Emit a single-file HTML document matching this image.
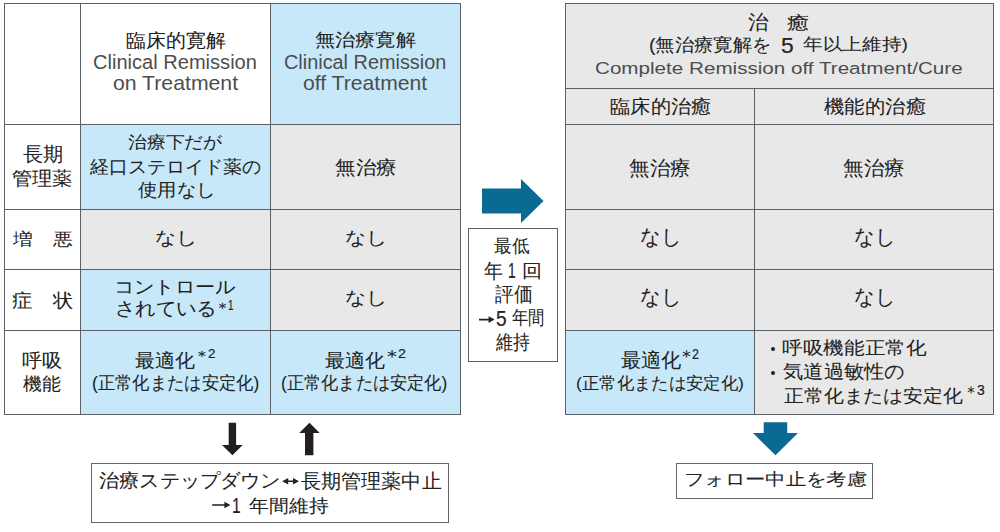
<!DOCTYPE html>
<html><head><meta charset="utf-8"><style>html,body{margin:0;padding:0;background:#fff;}body{width:1000px;height:532px;position:relative;overflow:hidden;font-family:'Liberation Sans',sans-serif;color:#222;}div{position:absolute;box-sizing:border-box;}p{position:absolute;margin:0;line-height:1;white-space:pre;transform-origin:0 0;}.j{-webkit-text-stroke:0.05px #222;}.e{color:#4d4d4d;}.d{-webkit-text-stroke:0.2px #222;}</style></head><body>
<div style="left:4px;top:3px;width:76px;height:121px;background:#fff;"></div>
<div style="left:80px;top:3px;width:190px;height:121px;background:#fff;"></div>
<div style="left:270px;top:3px;width:190px;height:121px;background:#c6e8f9;"></div>
<div style="left:4px;top:124px;width:76px;height:85px;background:#fff;"></div>
<div style="left:80px;top:124px;width:190px;height:85px;background:#c6e8f9;"></div>
<div style="left:270px;top:124px;width:190px;height:85px;background:#e8e8e8;"></div>
<div style="left:4px;top:209px;width:76px;height:60px;background:#fff;"></div>
<div style="left:80px;top:209px;width:190px;height:60px;background:#e8e8e8;"></div>
<div style="left:270px;top:209px;width:190px;height:60px;background:#e8e8e8;"></div>
<div style="left:4px;top:269px;width:76px;height:61px;background:#fff;"></div>
<div style="left:80px;top:269px;width:190px;height:61px;background:#c6e8f9;"></div>
<div style="left:270px;top:269px;width:190px;height:61px;background:#e8e8e8;"></div>
<div style="left:4px;top:330px;width:76px;height:84px;background:#fff;"></div>
<div style="left:80px;top:330px;width:190px;height:84px;background:#c6e8f9;"></div>
<div style="left:270px;top:330px;width:190px;height:84px;background:#c6e8f9;"></div>
<div style="left:565px;top:3px;width:428px;height:411px;background:#e8e8e8;"></div>
<div style="left:565px;top:330px;width:189px;height:84px;background:#c6e8f9;"></div>
<div style="left:4px;top:3px;width:1px;height:412px;background:#5a6065;"></div>
<div style="left:80px;top:3px;width:1px;height:412px;background:#5a6065;"></div>
<div style="left:270px;top:3px;width:1px;height:412px;background:#5a6065;"></div>
<div style="left:460px;top:3px;width:1px;height:412px;background:#5a6065;"></div>
<div style="left:4px;top:3px;width:457px;height:1px;background:#5a6065;"></div>
<div style="left:4px;top:124px;width:457px;height:1px;background:#5a6065;"></div>
<div style="left:4px;top:209px;width:457px;height:1px;background:#5a6065;"></div>
<div style="left:4px;top:269px;width:457px;height:1px;background:#5a6065;"></div>
<div style="left:4px;top:330px;width:457px;height:1px;background:#5a6065;"></div>
<div style="left:4px;top:414px;width:457px;height:1px;background:#5a6065;"></div>
<div style="left:565px;top:3px;width:1px;height:412px;background:#5a6065;"></div>
<div style="left:993px;top:3px;width:1px;height:412px;background:#5a6065;"></div>
<div style="left:754px;top:88px;width:1px;height:327px;background:#5a6065;"></div>
<div style="left:565px;top:3px;width:429px;height:1px;background:#5a6065;"></div>
<div style="left:565px;top:88px;width:429px;height:1px;background:#5a6065;"></div>
<div style="left:565px;top:124px;width:429px;height:1px;background:#5a6065;"></div>
<div style="left:565px;top:209px;width:429px;height:1px;background:#5a6065;"></div>
<div style="left:565px;top:269px;width:429px;height:1px;background:#5a6065;"></div>
<div style="left:565px;top:330px;width:429px;height:1px;background:#5a6065;"></div>
<div style="left:565px;top:414px;width:429px;height:1px;background:#5a6065;"></div>
<div style="left:468px;top:228px;width:88px;height:132px;border:1px solid #5a6065;box-sizing:content-box"></div>
<div style="left:91px;top:463px;width:358px;height:60px;border:1px solid #666"></div>
<div style="left:676px;top:463px;width:197px;height:36px;border:1px solid #666"></div>
<svg style="position:absolute;left:0;top:0" width="1000" height="532"><polygon fill="#0b6a93" points="482,188.5 521,188.5 521,179 543.5,201 521,223 521,213.5 482,213.5"/><polygon fill="#231f20" points="228.7,422.7 236.1,422.7 236.1,445 242.7,445 232.4,455.3 222,445 228.7,445"/><polygon fill="#231f20" points="309.5,422.7 319.7,433 313.4,433 313.4,455.3 305,455.3 305,433 299.2,433"/><polygon fill="#0b6a93" points="763.7,422.2 787.2,422.2 787.2,433 798,433 775.5,455.3 753,433 763.7,433"/><polygon fill="#222" points="212.2,504.2 224.4,504.2 224.4,501.7 230.4,505 224.4,508.3 224.4,505.8 212.2,505.8"/><polygon fill="#222" points="479,318.8 488.6,318.8 488.6,316.3 494.6,319.6 488.6,322.90000000000003 488.6,320.40000000000003 479,320.40000000000003"/><polygon fill="#222" points="282.2,481.2 288.2,477.9 288.2,480.4 293,480.4 293,477.9 299,481.2 293,484.5 293,482.0 288.2,482.0 288.2,484.5"/></svg>
<div style="left:771px;top:346.5px;width:4px;height:4px;background:#222;border-radius:50%"></div>
<div style="left:771px;top:370.5px;width:4px;height:4px;background:#222;border-radius:50%"></div>
<p class="j" style="left:126.02px;top:31.51px;font-size:18.63px;transform:scaleX(1.0483)">臨床的寛解</p>
<p class="e" style="left:93.30px;top:53.16px;font-size:19.57px;transform:scaleX(1.0257)">Clinical Remission</p>
<p class="e" style="left:113.34px;top:73.46px;font-size:20.29px;transform:scaleX(1.0466)">on Treatment</p>
<p class="j" style="left:314.69px;top:30.50px;font-size:18.00px;transform:scaleX(1.1181)">無治療寛解</p>
<p class="e" style="left:283.61px;top:53.16px;font-size:19.57px;transform:scaleX(1.0156)">Clinical Remission</p>
<p class="e" style="left:303.14px;top:73.46px;font-size:20.29px;transform:scaleX(1.0426)">off Treatment</p>
<p class="j" style="left:22.99px;top:144.43px;font-size:20.09px;transform:scaleX(1.0102)">長期</p>
<p class="j" style="left:12.31px;top:169.92px;font-size:18.53px;transform:scaleX(1.0648)">管理薬</p>
<p class="j" style="left:12.78px;top:231.65px;font-size:16.58px;transform:scaleX(1.1641)">増　悪</p>
<p class="j" style="left:11.90px;top:291.68px;font-size:18.87px;transform:scaleX(1.0713)">症　状</p>
<p class="j" style="left:22.21px;top:351.71px;font-size:18.55px;transform:scaleX(1.0670)">呼吸</p>
<p class="j" style="left:23.30px;top:374.54px;font-size:18.32px;transform:scaleX(1.0477)">機能</p>
<p class="j" style="left:127.54px;top:134.51px;font-size:16.66px;transform:scaleX(1.1068)">治療下だが</p>
<p class="j" style="left:89.50px;top:158.91px;font-size:17.61px;transform:scaleX(1.0551)">経口ステロイド薬の</p>
<p class="j" style="left:138.00px;top:182.02px;font-size:17.59px;transform:scaleX(1.0722)">使用なし</p>
<p class="j" style="left:334.96px;top:157.51px;font-size:19.49px;transform:scaleX(1.0799)">無治療</p>
<p class="j" style="left:154.85px;top:228.93px;font-size:18.45px;transform:scaleX(1.1540)">なし</p>
<p class="j" style="left:344.85px;top:228.93px;font-size:18.45px;transform:scaleX(1.1540)">なし</p>
<p class="j" style="left:114.08px;top:278.29px;font-size:18.41px;transform:scaleX(1.1217)">コントロール</p>
<p class="j" style="left:114.98px;top:299.37px;font-size:19.43px;transform:scaleX(1.0720)">されている</p>
<p class="j" style="left:214.02px;top:299.63px;font-size:15.11px;transform:scaleX(1.1415)">＊</p>
<p class="d" style="left:228.00px;top:298.32px;font-size:14.38px;transform:scaleX(0.6802)">1</p>
<p class="j" style="left:344.85px;top:289.15px;font-size:18.45px;transform:scaleX(1.1540)">なし</p>
<p class="j" style="left:134.73px;top:351.80px;font-size:18.67px;transform:scaleX(1.0500)">最適化</p>
<p class="j" style="left:192.50px;top:347.59px;font-size:15.40px;transform:scaleX(1.1956)">＊</p>
<p class="d" style="left:208.33px;top:346.99px;font-size:13.43px;transform:scaleX(0.9929)">2</p>
<p class="j" style="left:91.93px;top:374.38px;font-size:18.15px;transform:scaleX(0.9608)">(正常化または安定化)</p>
<p class="j" style="left:324.73px;top:351.80px;font-size:18.67px;transform:scaleX(1.0500)">最適化</p>
<p class="j" style="left:380.99px;top:347.67px;font-size:16.50px;transform:scaleX(1.3098)">＊</p>
<p class="d" style="left:397.79px;top:347.09px;font-size:13.43px;transform:scaleX(1.0591)">2</p>
<p class="j" style="left:280.92px;top:374.38px;font-size:18.15px;transform:scaleX(0.9550)">(正常化または安定化)</p>
<p class="j" style="left:494.44px;top:237.10px;font-size:18.47px;transform:scaleX(0.9744)">最低</p>
<p class="j" style="left:484.46px;top:261.22px;font-size:20.12px;transform:scaleX(0.9452)">年</p>
<p class="d" style="left:507.56px;top:260.79px;font-size:21.43px;transform:scaleX(0.6431)">1</p>
<p class="j" style="left:522.20px;top:262.67px;font-size:17.78px;transform:scaleX(1.1122)">回</p>
<p class="j" style="left:495.44px;top:285.07px;font-size:19.64px;transform:scaleX(0.9441)">評価</p>
<p class="d" style="left:496.07px;top:307.55px;font-size:22.28px;transform:scaleX(0.8552)">5</p>
<p class="j" style="left:511.58px;top:309.05px;font-size:18.95px;transform:scaleX(0.8613)">年間</p>
<p class="j" style="left:495.99px;top:333.46px;font-size:19.51px;transform:scaleX(0.8569)">維持</p>
<p class="j" style="left:748.41px;top:12.96px;font-size:19.59px;transform:scaleX(1.0264)">治</p>
<p class="j" style="left:787.43px;top:14.46px;font-size:18.41px;transform:scaleX(1.2361)">癒</p>
<p class="j" style="left:648.62px;top:36.00px;font-size:18.15px;transform:scaleX(1.0725)">(無治療寛解を</p>
<p class="d" style="left:780.88px;top:35.79px;font-size:21.43px;transform:scaleX(1.0647)">5</p>
<p class="j" style="left:803.32px;top:36.53px;font-size:16.64px;transform:scaleX(1.1593)">年以上維持)</p>
<p class="e" style="left:594.97px;top:60.43px;font-size:17.14px;transform:scaleX(1.2045)">Complete Remission off Treatment/Cure</p>
<p class="j" style="left:609.99px;top:97.53px;font-size:18.95px;transform:scaleX(1.0664)">臨床的治癒</p>
<p class="j" style="left:823.60px;top:97.53px;font-size:18.95px;transform:scaleX(1.0726)">機能的治癒</p>
<p class="j" style="left:629.49px;top:157.50px;font-size:20.00px;transform:scaleX(1.0256)">無治療</p>
<p class="j" style="left:843.49px;top:157.50px;font-size:20.00px;transform:scaleX(1.0256)">無治療</p>
<p class="j" style="left:640.01px;top:226.95px;font-size:20.54px;transform:scaleX(0.9610)">なし</p>
<p class="j" style="left:854.01px;top:226.95px;font-size:20.54px;transform:scaleX(0.9619)">なし</p>
<p class="j" style="left:640.01px;top:286.95px;font-size:20.54px;transform:scaleX(0.9610)">なし</p>
<p class="j" style="left:854.01px;top:286.95px;font-size:20.54px;transform:scaleX(0.9619)">なし</p>
<p class="j" style="left:620.51px;top:351.00px;font-size:19.54px;transform:scaleX(1.0086)">最適化</p>
<p class="j" style="left:676.65px;top:348.70px;font-size:16.57px;transform:scaleX(1.1250)">＊</p>
<p class="d" style="left:692.00px;top:346.50px;font-size:14.00px;transform:scaleX(0.8899)">2</p>
<p class="j" style="left:576.12px;top:375.00px;font-size:17.20px;transform:scaleX(1.0213)">(正常化または安定化)</p>
<p class="j" style="left:782.34px;top:339.09px;font-size:18.15px;transform:scaleX(1.1476)">呼吸機能正常化</p>
<p class="j" style="left:783.00px;top:362.56px;font-size:18.92px;transform:scaleX(1.0661)">気道過敏性の</p>
<p class="j" style="left:784.20px;top:388.19px;font-size:17.70px;transform:scaleX(1.1036)">正常化または安定化</p>
<p class="j" style="left:962.63px;top:384.23px;font-size:17.42px;transform:scaleX(0.9485)">＊</p>
<p class="d" style="left:976.78px;top:383.32px;font-size:14.38px;transform:scaleX(0.9735)">3</p>
<p class="j" style="left:99.48px;top:471.00px;font-size:19.00px;transform:scaleX(1.0618)">治療ステップダウン</p>
<p class="j" style="left:300.90px;top:470.50px;font-size:20.00px;transform:scaleX(1.0043)">長期管理薬中止</p>
<p class="d" style="left:231.83px;top:495.16px;font-size:22.35px;transform:scaleX(0.6959)">1</p>
<p class="j" style="left:249.40px;top:496.75px;font-size:18.05px;transform:scaleX(1.1023)">年間維持</p>
<p class="j" style="left:683.89px;top:472.18px;font-size:16.80px;transform:scaleX(1.1971)">フォロー中止を考慮</p>
</body></html>
